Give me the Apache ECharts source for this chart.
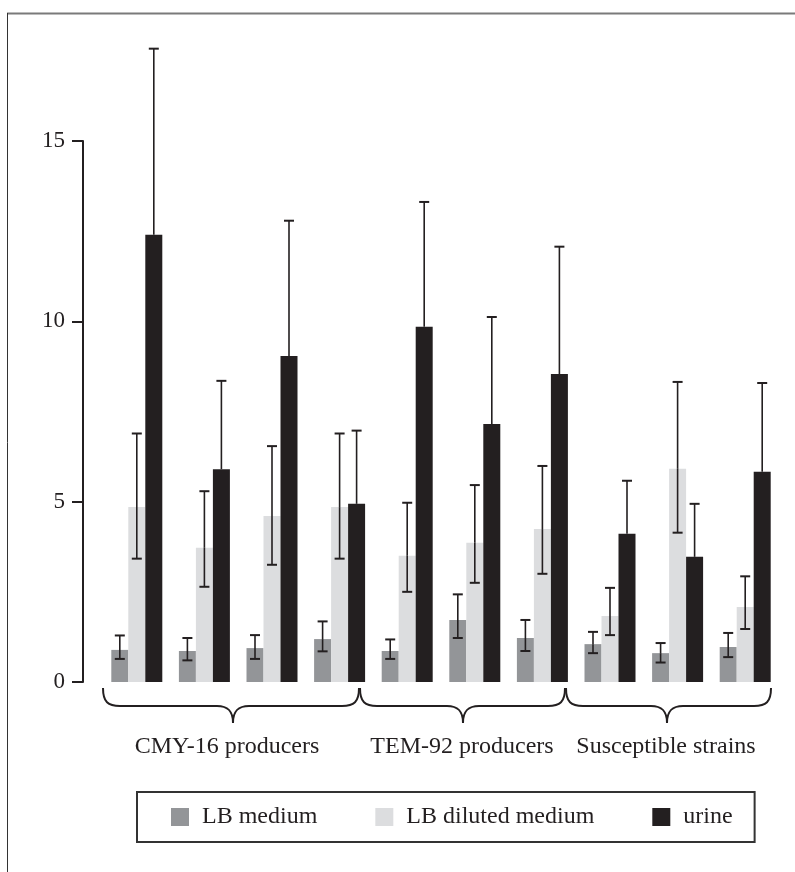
<!DOCTYPE html>
<html>
<head>
<meta charset="utf-8">
<script src="https://cdn.jsdelivr.net/npm/echarts@6/dist/echarts.min.js"></script>
<style>
html,body{margin:0;padding:0;background:#fff;}
#chart{width:795px;height:872px;}
</style>
</head>
<body>
<div id="chart"></div>
<script>
// ---- data ----
var categories = ['CMY-16 #1','CMY-16 #2','CMY-16 #3','CMY-16 #4','TEM-92 #1','TEM-92 #2','TEM-92 #3','Susceptible #1','Susceptible #2','Susceptible #3'];
var seriesNames = ['LB medium','LB diluted medium','urine'];
var lbMedium      = [0.89, 0.86, 0.94, 1.19, 0.86, 1.72, 1.22, 1.05, 0.80, 0.97];
var lbMediumHigh  = [1.29, 1.22, 1.30, 1.68, 1.18, 2.43, 1.72, 1.39, 1.08, 1.36];
var lbMediumLow   = [0.64, 0.60, 0.64, 0.85, 0.64, 1.22, 0.86, 0.80, 0.54, 0.69];
var lbDiluted     = [4.85, 3.72, 4.60, 4.85, 3.50, 3.86, 4.24, 1.83, 5.91, 2.08];
var lbDilutedHigh = [6.89, 5.29, 6.54, 6.89, 4.97, 5.46, 5.99, 2.61, 8.32, 2.93];
var lbDilutedLow  = [3.42, 2.64, 3.25, 3.42, 2.50, 2.75, 3.00, 1.30, 4.14, 1.47];
var urine         = [12.40, 5.90, 9.04, 4.94, 9.85, 7.15, 8.54, 4.11, 3.47, 5.83];
var urineHigh     = [17.56, 8.35, 12.79, 6.97, 13.31, 10.12, 12.07, 5.58, 4.94, 8.29];
var urineLow      = [null, null, null, null, null, null, null, null, null, null];
var groupLabels = ['CMY-16 producers','TEM-92 producers','Susceptible strains'];
var yTicks = [0, 5, 10, 15];

// ---- style ----
var colors = ['#939598', '#dcdddf', '#231f20'];
var ink = '#231f20';
var FONT = '"Liberation Serif", "Times New Roman", serif';
var BAR_W = 17;

var chart = echarts.init(document.getElementById('chart'), null, {renderer: 'canvas'});

var values = [lbMedium, lbDiluted, urine];
var highs = [lbMediumHigh, lbDilutedHigh, urineHigh];
var lows = [lbMediumLow, lbDilutedLow, urineLow];

function errSeries(si) {
  var data = categories.map(function (c, i) {
    return [i, values[si][i], highs[si][i], lows[si][i] === null ? -1 : lows[si][i]];
  });
  return {
    type: 'custom',
    clip: false,
    silent: true,
    z: 10,
    data: data,
    renderItem: function (params, api) {
      var idx = api.value(0);
      var mean = api.value(1);
      var hi = api.value(2);
      var lo = api.value(3);
      var off = (si - 1) * BAR_W;
      var pm = api.coord([idx, mean]);
      var x = pm[0] + off;
      var ph = api.coord([idx, hi]);
      var cap = 5;
      var children = [
        {type: 'line', shape: {x1: x, y1: pm[1], x2: x, y2: ph[1]}, style: {stroke: ink, lineWidth: 1.6}},
        {type: 'line', shape: {x1: x - cap, y1: ph[1], x2: x + cap, y2: ph[1]}, style: {stroke: ink, lineWidth: 2}}
      ];
      if (lo >= 0) {
        var pl = api.coord([idx, lo]);
        children.push({type: 'line', shape: {x1: x, y1: pm[1], x2: x, y2: pl[1]}, style: {stroke: ink, lineWidth: 1.6}});
        children.push({type: 'line', shape: {x1: x - cap, y1: pl[1], x2: x + cap, y2: pl[1]}, style: {stroke: ink, lineWidth: 2}});
      }
      return {type: 'group', children: children};
    }
  };
}

// braces as decoration (bezier curves + lines)
var braces = [[103, 359, 233], [360, 565, 463], [566, 771, 667]];
var labelX = [227, 462, 666];
var yT = 688, yM = 706, yP = 723;
var bStyle = {stroke: ink, lineWidth: 2, fill: null};

var graphics = [
  {type: 'line', shape: {x1: 7, y1: 13.5, x2: 795, y2: 13.5}, style: {stroke: '#7a7a7a', lineWidth: 2}, silent: true},
  {type: 'line', shape: {x1: 7.5, y1: 13, x2: 7.5, y2: 872}, style: {stroke: '#333', lineWidth: 1}, silent: true}
];
braces.forEach(function (b, i) {
  var x0 = b[0], x1 = b[1], xm = b[2];
  graphics.push({type: 'bezierCurve', shape: {x1: x0, y1: yT, x2: x0 + 17, y2: yM, cpx1: x0, cpy1: yM - 4, cpx2: x0 + 5, cpy2: yM}, style: bStyle, silent: true});
  graphics.push({type: 'line', shape: {x1: x0 + 17, y1: yM, x2: xm - 16, y2: yM}, style: bStyle, silent: true});
  graphics.push({type: 'bezierCurve', shape: {x1: xm - 16, y1: yM, x2: xm, y2: yP, cpx1: xm - 6, cpy1: yM, cpx2: xm, cpy2: yM + 4}, style: bStyle, silent: true});
  graphics.push({type: 'bezierCurve', shape: {x1: xm, y1: yP, x2: xm + 16, y2: yM, cpx1: xm, cpy1: yM + 4, cpx2: xm + 6, cpy2: yM}, style: bStyle, silent: true});
  graphics.push({type: 'line', shape: {x1: xm + 16, y1: yM, x2: x1 - 17, y2: yM}, style: bStyle, silent: true});
  graphics.push({type: 'bezierCurve', shape: {x1: x1 - 17, y1: yM, x2: x1, y2: yT, cpx1: x1 - 5, cpy1: yM, cpx2: x1, cpy2: yM - 4}, style: bStyle, silent: true});
  graphics.push({type: 'text', x: labelX[i], y: 747, style: {text: groupLabels[i], font: '24px ' + FONT, fill: ink, textAlign: 'center', textVerticalAlign: 'middle'}, silent: true});
});

var option = {
  animation: false,
  backgroundColor: '#fff',
  grid: {left: 103, right: 16, top: 141, bottom: 190, containLabel: false},
  legend: {
    data: seriesNames,
    left: 137, top: 792,
    orient: 'horizontal',
    icon: 'rect',
    itemWidth: 18, itemHeight: 18,
    itemGap: 58,
    padding: [13, 22, 13, 34],
    borderColor: '#333', borderWidth: 2,
    backgroundColor: '#fff',
    textStyle: {fontFamily: FONT, fontSize: 24, color: ink, padding: [0, 0, 0, 8]}
  },
  xAxis: {
    type: 'category',
    data: categories,
    axisLine: {show: false},
    axisTick: {show: false},
    axisLabel: {show: false},
    splitLine: {show: false}
  },
  yAxis: {
    type: 'value',
    min: 0, max: 15, interval: 5,
    offset: 20,
    axisLine: {show: true, lineStyle: {color: ink, width: 2}},
    axisTick: {show: true, length: 11, lineStyle: {color: ink, width: 2}},
    axisLabel: {
      fontFamily: FONT, fontSize: 23, color: ink, margin: 18,
      formatter: function (v) { return yTicks.indexOf(v) >= 0 ? String(v) : ''; }
    },
    splitLine: {show: false}
  },
  series: [
    {name: seriesNames[0], type: 'bar', data: lbMedium, barWidth: BAR_W, barGap: '0%', itemStyle: {color: colors[0]}},
    {name: seriesNames[1], type: 'bar', data: lbDiluted, barWidth: BAR_W, barGap: '0%', itemStyle: {color: colors[1]}},
    {name: seriesNames[2], type: 'bar', data: urine, barWidth: BAR_W, barGap: '0%', itemStyle: {color: colors[2]}},
    errSeries(0), errSeries(1), errSeries(2)
  ],
  graphic: graphics
};
chart.setOption(option);
</script>
</body>
</html>
